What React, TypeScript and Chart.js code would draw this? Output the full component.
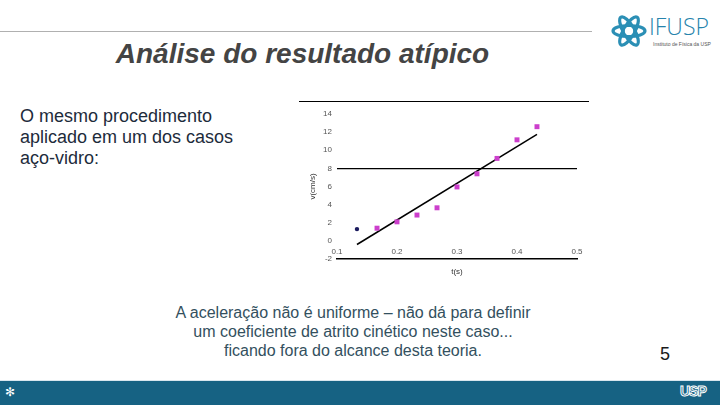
import React, { useEffect, useRef } from "react";
import { Chart, registerables } from "chart.js";

Chart.register(...registerables);

// Data
const firstTime = [0.1333];
const firstSpeed = [1.3];
const times = [0.1667, 0.2, 0.2333, 0.2667, 0.3, 0.3333, 0.3667, 0.4, 0.4333];
const speeds = [1.4, 2.1, 2.85, 3.65, 5.95, 7.4, 9.1, 11.15, 12.6];
const fitTimes = [0.1333, 0.4333];
const fitSpeeds = [-0.4, 11.75];
const xTicks = [0.1, 0.2, 0.3, 0.4, 0.5];
const yTicks = [-2, 0, 2, 4, 6, 8, 10, 12, 14];

const toPts = (xs: number[], ys: number[]) => xs.map((x, i) => ({ x, y: ys[i] }));

const FONT = "Arial, 'Liberation Sans', sans-serif";

// Draws the x tick labels just above the bottom axis line, as in the reference
const xLabelPlugin = {
  id: "xLabelsAbove",
  afterDraw(chart: any) {
    const { ctx, chartArea, scales } = chart;
    const xs = scales.x;
    ctx.save();
    ctx.font = `8px ${FONT}`;
    ctx.fillStyle = "#555555";
    ctx.textAlign = "center";
    ctx.textBaseline = "middle";
    xTicks.forEach((v) => {
      ctx.fillText(v.toFixed(1), xs.getPixelForValue(v), chartArea.bottom - 7);
    });
    ctx.restore();
  },
};

function VelocityChart() {
  const ref = useRef<HTMLCanvasElement | null>(null);
  useEffect(() => {
    if (!ref.current) return;
    const tickFont = { family: FONT, size: 8 };
    const chart = new Chart(ref.current, {
      type: "scatter",
      data: {
        datasets: [
          {
            label: "fit",
            data: toPts(fitTimes, fitSpeeds),
            showLine: true,
            borderColor: "#000000",
            borderWidth: 1.5,
            pointRadius: 0,
            order: 2,
          },
          {
            label: "first",
            data: toPts(firstTime, firstSpeed),
            pointStyle: "circle",
            pointRadius: 2.2,
            backgroundColor: "#1b1b5e",
            borderColor: "#1b1b5e",
            borderWidth: 0,
            order: 1,
          },
          {
            label: "v",
            data: toPts(times, speeds),
            pointStyle: "rect",
            pointRadius: 3.5,
            backgroundColor: "#cc3fcc",
            borderColor: "#cc3fcc",
            borderWidth: 0,
            order: 1,
          },
        ],
      },
      options: {
        responsive: false,
        animation: false,
        events: [],
        layout: { padding: { top: 19, right: 18, left: 0, bottom: 0 } },
        plugins: { legend: { display: false }, tooltip: { enabled: false } },
        scales: {
          x: {
            type: "linear",
            min: xTicks[0],
            max: xTicks[xTicks.length - 1],
            afterBuildTicks: (s: any) => {
              s.ticks = xTicks.map((v) => ({ value: v }));
            },
            afterFit: (s: any) => {
              s.height = 26;
            },
            grid: { display: false, drawTicks: false },
            border: { display: true, color: "#000000", width: 1.5 },
            ticks: { display: false },
            title: {
              display: true,
              text: "t(s)",
              font: tickFont,
              color: "#333333",
              padding: { top: 0, bottom: 8 },
            },
          },
          y: {
            type: "linear",
            min: yTicks[0],
            max: yTicks[yTicks.length - 1],
            afterBuildTicks: (s: any) => {
              s.ticks = yTicks.map((v) => ({ value: v }));
            },
            afterFit: (s: any) => {
              s.width = 42;
            },
            grid: {
              drawTicks: false,
              color: (c: any) => (c.tick && c.tick.value === 8 ? "#000000" : "rgba(0,0,0,0)"),
              lineWidth: 1.2,
            },
            border: { display: false },
            ticks: { padding: 5, font: tickFont, color: "#555555" },
            title: {
              display: true,
              text: "v(cm/s)",
              font: tickFont,
              color: "#333333",
              padding: { top: 13, bottom: 0 },
            },
          },
        },
      },
      plugins: [xLabelPlugin],
    });
    return () => chart.destroy();
  }, []);
  return <canvas ref={ref} width={300} height={190} style={{ width: 300, height: 190, display: "block" }} />;
}

export default function App() {
  return (
    <div
      style={{
        position: "fixed",
        left: 0,
        top: 0,
        width: 720,
        height: 405,
        background: "#ffffff",
        overflow: "hidden",
        fontFamily: FONT,
      }}
    >
      {/* top rule */}
      <div style={{ position: "absolute", left: 0, top: 31, width: 592, height: 1, background: "#b0b0b0" }} />
      {/* title */}
      <div
        style={{
          position: "absolute",
          left: 0,
          width: 605,
          top: 37,
          textAlign: "center",
          fontSize: 28,
          fontWeight: "bold",
          fontStyle: "italic",
          color: "#444444",
          lineHeight: "34px",
          whiteSpace: "nowrap",
        }}
      >
        Análise do resultado atípico
      </div>
      {/* IFUSP logo */}
      <svg style={{ position: "absolute", left: 610, top: 12 }} width={38} height={38} viewBox="0 0 38 38">
        <g fill="none" stroke="#2b8fb5" strokeWidth={3.2}>
          <ellipse cx={19} cy={19} rx={16} ry={5.5} />
          <ellipse cx={19} cy={19} rx={16} ry={5.5} transform="rotate(60 19 19)" />
          <ellipse cx={19} cy={19} rx={16} ry={5.5} transform="rotate(120 19 19)" />
        </g>
        <circle cx={19} cy={19} r={4} fill="#ffffff" />
      </svg>
      <div
        style={{
          position: "absolute",
          left: 649,
          top: 14,
          height: 24,
          fontSize: 23,
          color: "#2683ac",
          lineHeight: "24px",
          fontFamily: "'Open Sans', Arial, sans-serif",
          fontWeight: 300,
          whiteSpace: "nowrap",
        }}
      >
        IFUSP
      </div>
      <div
        style={{
          position: "absolute",
          left: 653,
          top: 41,
          fontSize: 5,
          lineHeight: "6px",
          color: "#555",
          whiteSpace: "nowrap",
        }}
      >
        Instituto de Física da USP
      </div>
      {/* left text */}
      <div
        style={{
          position: "absolute",
          left: 20,
          top: 106,
          fontSize: 18,
          lineHeight: "21px",
          color: "#1d2b3b",
          whiteSpace: "nowrap",
        }}
      >
        O mesmo procedimento
        <br />
        aplicado em um dos casos
        <br />
        aço-vidro:
      </div>
      {/* chart frame line */}
      <div style={{ position: "absolute", left: 299, top: 101, width: 290, height: 1, background: "#000" }} />
      <div style={{ position: "absolute", left: 295, top: 95, width: 300, height: 190 }}>
        <VelocityChart />
      </div>
      {/* bottom text */}
      <div
        style={{
          position: "absolute",
          left: 130,
          width: 446,
          top: 303,
          textAlign: "center",
          fontSize: 16,
          lineHeight: "19px",
          color: "#33505e",
          whiteSpace: "nowrap",
        }}
      >
        A aceleração não é uniforme – não dá para definir
        <br />
        um coeficiente de atrito cinético neste caso...
        <br />
        ficando fora do alcance desta teoria.
      </div>
      {/* page number */}
      <div style={{ position: "absolute", left: 660, top: 344, fontSize: 18, color: "#1a1a1a" }}>5</div>
      {/* bottom bar */}
      <div style={{ position: "absolute", left: 0, top: 380, width: 720, height: 1, background: "#d8e6ee" }} />
      <div style={{ position: "absolute", left: 0, top: 381, width: 720, height: 24, background: "#166283" }} />
      <div style={{ position: "absolute", left: 5, top: 382, fontSize: 12, color: "#ffffff", lineHeight: "20px" }}>✻</div>
      <div
        style={{
          position: "absolute",
          left: 680,
          top: 381,
          fontSize: 14,
          fontWeight: "bold",
          color: "#166283",
          WebkitTextStroke: "1px #ffffff",
          lineHeight: "20px",
          letterSpacing: -1,
        }}
      >
        USP
      </div>
    </div>
  );
}
